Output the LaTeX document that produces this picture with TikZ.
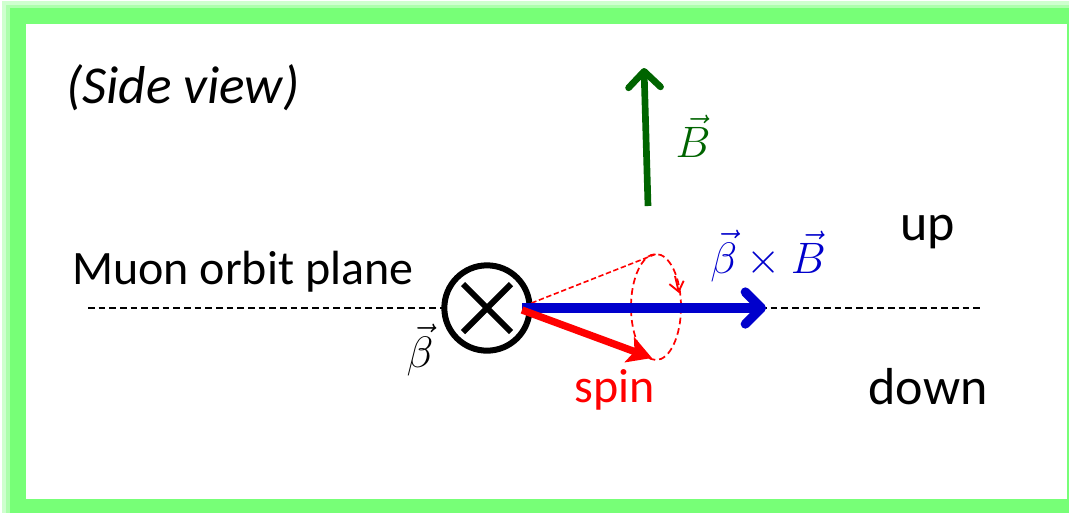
\documentclass[tikz,border=0pt]{standalone}
\usepackage{fix-cm}
\usepackage{fontspec}
\setmainfont{Carlito}
\setsansfont{Carlito}
\usetikzlibrary{arrows.meta}
\definecolor{frameg}{RGB}{119,255,119}
\definecolor{bgreen}{RGB}{0,100,0}
\definecolor{bblue}{RGB}{0,0,204}
\tikzset{
  lbl/.style={inner sep=0pt, font=\fontsize{36}{40}\selectfont},
  mlbl/.style={inner sep=0pt, font=\fontsize{33}{36}\selectfont},
}
\begin{document}
\begin{tikzpicture}[x=0.75pt,y=-0.75pt]
\useasboundingbox (0,0) rectangle (1069,512);
\fill[white] (0,0) rectangle (1069,512);
\begin{scope}
\clip (0,0) rectangle (1069,512);
\draw[frameg!35, line width=17pt] (13,12) rectangle (1080,512);
\draw[frameg!60, line width=13pt] (15,14) rectangle (1078,510);
\draw[frameg, line width=12.5pt] (18,16) rectangle (1075,507);
\end{scope}

% title
\node[lbl, anchor=west, font=\fontsize{40}{44}\selectfont\itshape] (title) at (66,88) {(Side view)};

% labels
\node[lbl, anchor=west] (plane) at (72,272) {Muon orbit plane};
\node[lbl, font=\fontsize{39}{42}\selectfont] (up) at (928,232) {up};
\node[lbl, font=\fontsize{39}{42}\selectfont] (down) at (928,387) {down};
\node[lbl, text=red] (spinlbl) at (615,390) {spin};

% dashed orbit plane
\coordinate (pl) at (88,308);
\coordinate (pr) at (982,308);
\draw[dashed, line width=1pt, dash pattern=on 5pt off 3pt] (pl) -- (pr);

% muon (into page)
\node[circle, draw=black, fill=white, line width=4.5pt, minimum size=64pt, inner sep=0pt] (mu) at (487,308) {};
\draw[line width=4.5pt] ([shift={(-24,-24)}]mu.center) -- ([shift={(24,24)}]mu.center);
\draw[line width=4.5pt] ([shift={(-24,24)}]mu.center) -- ([shift={(24,-24)}]mu.center);
\node[mlbl] (betalbl) at (420,350) {$\vec{\beta}$};

% B field
\coordinate (Bs) at (648,206);
\coordinate (Be) at (644,68);
\draw[bgreen, line width=5pt, -{Straight Barb[length=12pt,width=24pt,line cap=round,line join=round]}] (Bs) -- (Be);
\node[mlbl, text=bgreen] (Blbl) at (693,136) {$\vec{B}$};

% precession cone
\coordinate (apex) at (524,306);
\coordinate (ctop) at (656,254);
\coordinate (cbot) at (652,360);
\draw[red, line width=1.2pt, dash pattern=on 4pt off 2pt] (apex) -- (ctop);
\draw[red, line width=1.3pt, dash pattern=on 5pt off 3pt] (656,307) ellipse [x radius=25, y radius=53];
\draw[red, line width=1.4pt, -{Straight Barb[length=7pt,width=11pt]}] (675,276) -- (679,293);

% beta x B
\coordinate (bxs) at (522,308);
\coordinate (bxe) at (766,308);
\draw[bblue, line width=7pt, -{Straight Barb[length=12pt,width=24pt,line cap=round,line join=round]}] (bxs) -- (bxe);
\node[mlbl, text=bblue] (bxlbl) at (768,256) {$\vec{\beta}\times\vec{B}$};

% spin
\coordinate (ss) at (522,310);
\coordinate (se) at (652,358);
\draw[red, line width=5.5pt, -{Stealth[length=18pt,width=20pt,inset=4pt]}] (ss) -- (se);
\end{tikzpicture}
\end{document}
